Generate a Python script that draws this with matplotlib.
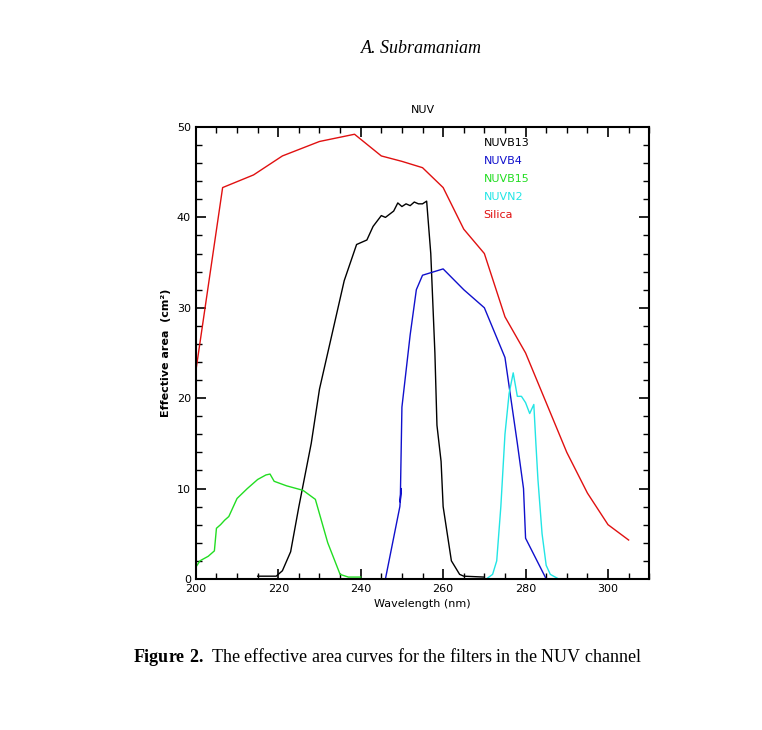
import matplotlib
matplotlib.use("Agg")
from matplotlib import pyplot as plt
from matplotlib.ticker import MultipleLocator

plt.rcParams["mathtext.fontset"] = "custom"
plt.rcParams["mathtext.rm"] = "Liberation Serif"
plt.rcParams["mathtext.bf"] = "Liberation Serif:bold"

silica_x = [200, 206.5, 214, 221, 230, 238.5, 245, 250, 255, 260, 265, 270, 275, 280, 285, 290, 295, 300, 305]
silica_y = [23, 43.3, 44.7, 46.8, 48.4, 49.2, 46.8, 46.2, 45.5, 43.3, 38.7, 36, 29, 25, 19.5, 14, 9.5, 6, 4.3]

b13_x = [215, 219.5, 220, 221, 223, 225, 228, 230, 233, 236, 239, 241.5, 243, 245, 246, 248, 249, 250, 251,
         252, 253, 254, 255, 256, 257, 258, 258.5, 259.5, 260, 261, 262, 264, 265, 270]
b13_y = [0.3, 0.3, 0.5, 0.9, 3, 8, 15, 21, 27, 33, 37, 37.5, 39, 40.2, 40, 40.7, 41.6, 41.2, 41.5,
         41.3, 41.7, 41.5, 41.5, 41.8, 36, 25, 17, 13, 8, 5, 2, 0.5, 0.3, 0.2]

b4_x = [246, 249.5, 249.8, 249.6, 250, 252, 253.5, 255, 260, 265, 270, 275, 278, 279.5, 280, 285]
b4_y = [0, 8, 10, 8.5, 19, 27, 32, 33.6, 34.3, 32, 30, 24.5, 15, 10, 4.5, 0]

b15_x = [200, 201, 203, 204.5, 205, 206, 207, 208, 210, 212.5, 215, 217, 218, 219, 222, 226, 229, 232, 235, 237, 240]
b15_y = [1.3, 2, 2.5, 3.1, 5.6, 6, 6.5, 6.9, 8.9, 10, 11, 11.5, 11.6, 10.8, 10.3, 9.8, 8.8, 4, 0.5, 0.2, 0.2]

n2_x = [270.5, 272, 273, 274, 275, 276, 277, 278, 279, 280, 281, 282, 282.5, 283, 284, 285, 286, 288, 290]
n2_y = [0, 0.5, 2, 8, 16, 20.5, 22.8, 20.2, 20.2, 19.5, 18.3, 19.3, 15, 11, 5, 1.5, 0.5, 0, 0]

names = ["NUVB13", "NUVB4", "NUVB15", "NUVN2", "Silica"]
colors = ["black", "#1010cc", "#22dd22", "#22e5e5", "#e01010"]

fig = plt.figure(figsize=(7.62, 7.30), dpi=100)
ax = fig.add_axes([0.257, 0.207, 0.595, 0.619])

ax.plot(silica_x, silica_y, color=colors[4], lw=1)
ax.plot(b13_x, b13_y, color=colors[0], lw=1)
ax.plot(b4_x, b4_y, color=colors[1], lw=1)
ax.plot(b15_x, b15_y, color=colors[2], lw=1)
ax.plot(n2_x, n2_y, color=colors[3], lw=1)

ax.set_xlim(200, 310)
ax.set_ylim(0, 50)
ax.xaxis.set_major_locator(MultipleLocator(20))
ax.xaxis.set_minor_locator(MultipleLocator(5))
ax.yaxis.set_major_locator(MultipleLocator(10))
ax.yaxis.set_minor_locator(MultipleLocator(2))
ax.tick_params(which="both", direction="in", top=True, right=True, labelsize=8)
ax.tick_params(which="major", length=7, width=1.2)
ax.tick_params(which="minor", length=4, width=1)
for s in ax.spines.values():
    s.set_linewidth(1.5)
ax.set_xlabel("Wavelength (nm)", fontsize=8)
ax.set_ylabel("Effective area  (cm²)", fontsize=8, fontweight="bold")
ax.set_title("NUV", fontsize=8, pad=10)

for i, (n, c) in enumerate(zip(names, colors)):
    ax.text(0.635, 0.965 - i * 0.04, n, color=c, fontsize=8, transform=ax.transAxes, va="center")

fig.text(0.553, 0.928, "A. Subramaniam", fontsize=13, style="italic", family="Liberation Serif", ha="center")
fig.text(0.175, 0.093, r"$\mathbf{Figure\ 2.}$ The effective area curves for the filters in the NUV channel",
         fontsize=13, family="Liberation Serif", ha="left")

fig.savefig("out.png", dpi=100)
